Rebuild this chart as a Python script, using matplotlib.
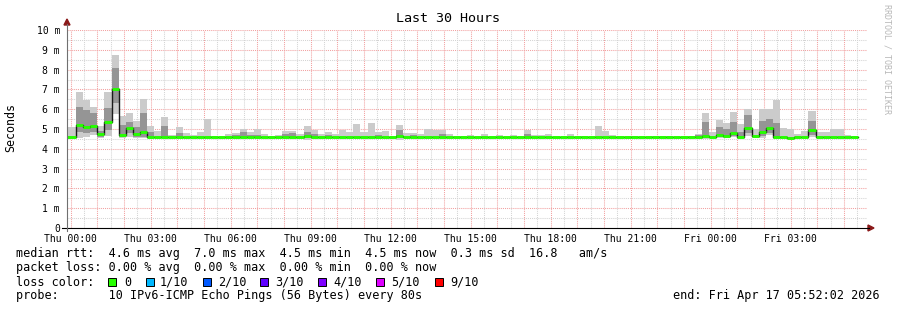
import numpy as np
import matplotlib
matplotlib.use('Agg')
import matplotlib.pyplot as plt
from matplotlib.patches import Polygon, Rectangle
from matplotlib.lines import Line2D

W, H = 897, 310
MONO = 'DejaVu Sans Mono'

# smokeping data, one value per 16 min bin, in ms
med = [4.62, 5.20, 5.12, 5.17, 4.73, 5.37, 7.00, 4.70, 5.07, 4.73,
       4.87, 4.58, 4.58, 4.58, 4.58, 4.58, 4.58, 4.58, 4.58, 4.58,
       4.58, 4.58, 4.58, 4.58, 4.58, 4.58, 4.58, 4.58, 4.58, 4.58,
       4.58, 4.58, 4.58, 4.66, 4.58, 4.58, 4.58, 4.58, 4.58, 4.58,
       4.58, 4.58, 4.58, 4.58, 4.58, 4.58, 4.66, 4.58, 4.58, 4.58,
       4.58, 4.58, 4.58, 4.58, 4.58, 4.58, 4.58, 4.58, 4.58, 4.58,
       4.58, 4.58, 4.58, 4.58, 4.60, 4.58, 4.58, 4.58, 4.58, 4.58,
       4.58, 4.58, 4.58, 4.58, 4.58, 4.58, 4.58, 4.58, 4.58, 4.58,
       4.58, 4.58, 4.58, 4.58, 4.58, 4.58, 4.58, 4.58, 4.58, 4.66,
       4.58, 4.70, 4.64, 4.81, 4.61, 5.03, 4.64, 4.83, 5.03, 4.61,
       4.58, 4.55, 4.58, 4.58, 4.97, 4.60, 4.60, 4.58, 4.60, 4.60, 4.60]
mx = [5.10, 6.89, 6.46, 6.13, 5.15, 6.89, 8.74, 5.66, 5.79, 5.41,
      6.50, 5.15, 4.90, 5.62, 4.70, 5.12, 4.78, 4.70, 4.83, 5.50,
      4.66, 4.62, 4.75, 4.78, 5.00, 4.83, 5.00, 4.73, 4.66, 4.70,
      4.90, 4.90, 4.73, 5.15, 4.95, 4.73, 4.86, 4.73, 4.95, 4.86,
      5.25, 4.86, 5.32, 4.86, 4.92, 4.61, 5.20, 4.81, 4.78, 4.75,
      5.00, 4.95, 4.95, 4.73, 4.66, 4.64, 4.70, 4.61, 4.75, 4.61,
      4.70, 4.61, 4.70, 4.61, 4.95, 4.70, 4.70, 4.73, 4.61, 4.58,
      4.75, 4.61, 4.64, 4.61, 5.15, 4.90, 4.70, 4.58, 4.61, 4.64,
      4.58, 4.58, 4.64, 4.64, 4.64, 4.61, 4.61, 4.64, 4.75, 5.82,
      4.86, 5.45, 5.32, 5.88, 5.24, 6.01, 4.98, 6.01, 6.01, 6.45,
      5.03, 4.98, 4.75, 4.90, 5.91, 4.86, 4.86, 4.98, 4.98, 4.70, 4.64]
hi = [4.62, 6.13, 5.96, 5.79, 4.90, 6.04, 8.07, 5.20, 5.34, 5.12,
      5.79, 4.83, 4.58, 5.15, 4.58, 4.78, 4.58, 4.58, 4.58, 4.58,
      4.58, 4.58, 4.58, 4.70, 4.83, 4.70, 4.70, 4.58, 4.58, 4.58,
      4.73, 4.78, 4.58, 4.86, 4.73, 4.58, 4.70, 4.58, 4.58, 4.58,
      4.58, 4.61, 4.58, 4.70, 4.58, 4.58, 4.95, 4.58, 4.70, 4.58,
      4.58, 4.58, 4.73, 4.58, 4.58, 4.58, 4.61, 4.58, 4.58, 4.58,
      4.61, 4.58, 4.58, 4.58, 4.75, 4.58, 4.58, 4.58, 4.58, 4.58,
      4.58, 4.58, 4.58, 4.58, 4.58, 4.58, 4.58, 4.58, 4.58, 4.58,
      4.58, 4.58, 4.58, 4.58, 4.58, 4.58, 4.58, 4.58, 4.70, 5.37,
      4.58, 5.12, 4.98, 5.37, 4.86, 5.71, 4.64, 5.40, 5.50, 5.30,
      4.58, 4.58, 4.58, 4.58, 5.40, 4.60, 4.60, 4.58, 4.60, 4.60, 4.60]
lo = [4.55, 4.83, 4.78, 4.85, 4.62, 4.95, 6.30, 4.62, 4.82, 4.62,
      4.62, 4.58, 4.58, 4.58, 4.58, 4.58, 4.58, 4.58, 4.58, 4.58,
      4.58, 4.58, 4.58, 4.58, 4.58, 4.58, 4.58, 4.58, 4.58, 4.58,
      4.58, 4.58, 4.58, 4.55, 4.58, 4.58, 4.58, 4.58, 4.58, 4.58,
      4.58, 4.58, 4.58, 4.58, 4.58, 4.58, 4.55, 4.58, 4.58, 4.58,
      4.58, 4.58, 4.58, 4.58, 4.58, 4.58, 4.58, 4.58, 4.58, 4.58,
      4.58, 4.58, 4.58, 4.58, 4.58, 4.58, 4.58, 4.58, 4.58, 4.58,
      4.58, 4.58, 4.58, 4.58, 4.58, 4.58, 4.58, 4.58, 4.58, 4.58,
      4.58, 4.58, 4.58, 4.58, 4.58, 4.58, 4.58, 4.58, 4.58, 4.55,
      4.58, 4.60, 4.60, 4.65, 4.58, 4.80, 4.60, 4.65, 4.80, 4.55,
      4.58, 4.55, 4.58, 4.58, 4.70, 4.60, 4.60, 4.58, 4.60, 4.60, 4.60]
mn = [4.52, 4.53, 4.60, 4.70, 4.55, 4.65, 5.74, 4.55, 4.60, 4.55,
      4.55, 4.53, 4.53, 4.53, 4.53, 4.53, 4.53, 4.53, 4.53, 4.53,
      4.53, 4.53, 4.53, 4.53, 4.53, 4.53, 4.53, 4.53, 4.53, 4.53,
      4.53, 4.53, 4.53, 4.45, 4.53, 4.53, 4.53, 4.53, 4.53, 4.53,
      4.53, 4.53, 4.53, 4.53, 4.53, 4.53, 4.45, 4.53, 4.53, 4.53,
      4.53, 4.53, 4.53, 4.53, 4.53, 4.53, 4.53, 4.53, 4.53, 4.53,
      4.53, 4.53, 4.53, 4.53, 4.53, 4.53, 4.53, 4.53, 4.53, 4.53,
      4.53, 4.53, 4.53, 4.53, 4.53, 4.53, 4.53, 4.53, 4.53, 4.53,
      4.53, 4.53, 4.53, 4.53, 4.53, 4.53, 4.53, 4.53, 4.53, 4.50,
      4.53, 4.55, 4.55, 4.60, 4.53, 4.65, 4.55, 4.55, 4.70, 4.50,
      4.53, 4.50, 4.53, 4.53, 4.60, 4.55, 4.55, 4.53, 4.55, 4.55, 4.55]

tick_labels = ['Thu 00:00', 'Thu 03:00', 'Thu 06:00', 'Thu 09:00', 'Thu 12:00',
               'Thu 15:00', 'Thu 18:00', 'Thu 21:00', 'Fri 00:00', 'Fri 03:00']
loss_labels = ['0', '1/10', '2/10', '3/10', '4/10', '5/10', '9/10']
loss_colors = ['#26ff00', '#00b8ff', '#0059ff', '#5e00ff', '#7e00ff', '#dd00ff', '#ff0000']

# time axis in minutes since Wed 23:52:02 (30 h window)
first_hour = 7.967
bin_len = 16
first_end = 20.25


def fx(x):
    return x / W


def fy(y):
    return 1 - y / H


def stepv(a):
    return np.append(a, a[-1])


fig = plt.figure(figsize=(W / 100, H / 100), dpi=100, facecolor='white')
ax = fig.add_axes([fx(67), fy(228), 800 / W, 198 / H])
ax.set_xlim(0, 1800)
ax.set_ylim(0, 10)
for s in ax.spines.values():
    s.set_visible(False)

# grid
dot = (0, (1, 1))
for v in np.arange(0.5, 10, 1.0):
    ax.axhline(v, color='#d4d4d4', lw=0.75, ls=dot, zorder=0)
for v in range(1, 11):
    ax.axhline(v, color='#f2a0a0', lw=0.75, ls=dot, zorder=0)
for m in np.arange(first_hour + 30, 1800, 60):
    ax.axvline(m, color='#d4d4d4', lw=0.75, ls=dot, zorder=0)
for m in np.arange(first_hour, 1800, 60):
    ax.axvline(m, color='#f2a0a0', lw=0.75, ls=dot, zorder=0)

edges = first_end + bin_len * np.arange(-1, len(med))
edges[0] = 0

ax.fill_between(edges, stepv(mn), stepv(mx), step='post', color='#cbcbcb', lw=0, zorder=2)
ax.fill_between(edges, stepv(lo), stepv(hi), step='post', color='#959595', lw=0, zorder=3)
ax.step(edges, stepv(med), where='post', color='#1a1a1a', lw=1.0, zorder=4)
ax.hlines(med, edges[:-1], edges[1:], color=loss_colors[0], lw=2.1, zorder=5)

ax.set_xticks(first_hour + 180 * np.arange(len(tick_labels)))
ax.set_xticklabels(tick_labels, fontsize=7, family=MONO)
ax.set_yticks(range(11))
ax.set_yticklabels(['0'] + ['%d m' % i for i in range(1, 11)], fontsize=7, family=MONO)
ax.tick_params(axis='both', length=0)
ax.tick_params(axis='x', pad=4)
ax.tick_params(axis='y', pad=5)

# axes with arrows
fig.add_artist(Line2D([fx(62), fx(869)], [fy(228), fy(228)], color='black', lw=0.8))
fig.add_artist(Line2D([fx(67), fx(67)], [fy(231), fy(24)], color='#707070', lw=0.8))
fig.add_artist(Polygon([[fx(64), fy(25)], [fx(70), fy(25)], [fx(67), fy(19)]],
                       closed=True, color='#8b1a1a', transform=fig.transFigure))
fig.add_artist(Polygon([[fx(868), fy(225)], [fx(868), fy(231)], [fx(874), fy(228)]],
                       closed=True, color='#8b1a1a', transform=fig.transFigure))

fig.text(fx(448), fy(19), 'Last 30 Hours', ha='center', va='center', fontsize=9.6, family=MONO)
fig.text(fx(11), fy(128), 'Seconds', rotation=90, ha='center', va='center', fontsize=8.4, family=MONO)
fig.text(fx(887), fy(4), 'RRDTOOL / TOBI OETIKER', rotation=-90, ha='center', va='top',
         fontsize=6, family=MONO, color='#b8b8b8')

# legend
fs = 8.5
fig.text(fx(16), fy(254), 'median rtt:  4.6 ms avg  7.0 ms max  4.5 ms min  4.5 ms now  0.3 ms sd  16.8   am/s',
         va='center', fontsize=fs, family=MONO)
fig.text(fx(16), fy(268), 'packet loss: 0.00 % avg  0.00 % max  0.00 % min  0.00 % now',
         va='center', fontsize=fs, family=MONO)
fig.text(fx(16), fy(282), 'loss color:', va='center', fontsize=fs, family=MONO)
box_x = [108.3, 145.7, 202.7, 260, 317.7, 376, 435]
lab_x = [124, 160, 218, 275, 333, 391, 450]
for bx, lx, lab, c in zip(box_x, lab_x, loss_labels, loss_colors):
    fig.add_artist(Rectangle((fx(bx), fy(286)), 8 / W, 8 / H, facecolor=c, edgecolor='black',
                             lw=0.7, transform=fig.transFigure))
    fig.text(fx(lx), fy(282), lab, va='center', fontsize=fs, family=MONO)
fig.text(fx(16), fy(296), 'probe:       10 IPv6-ICMP Echo Pings (56 Bytes) every 80s',
         va='center', fontsize=fs, family=MONO)
fig.text(fx(880), fy(296), 'end: Fri Apr 17 05:52:02 2026', ha='right', va='center',
         fontsize=fs, family=MONO)

fig.savefig('out.png', dpi=100, facecolor='white')
